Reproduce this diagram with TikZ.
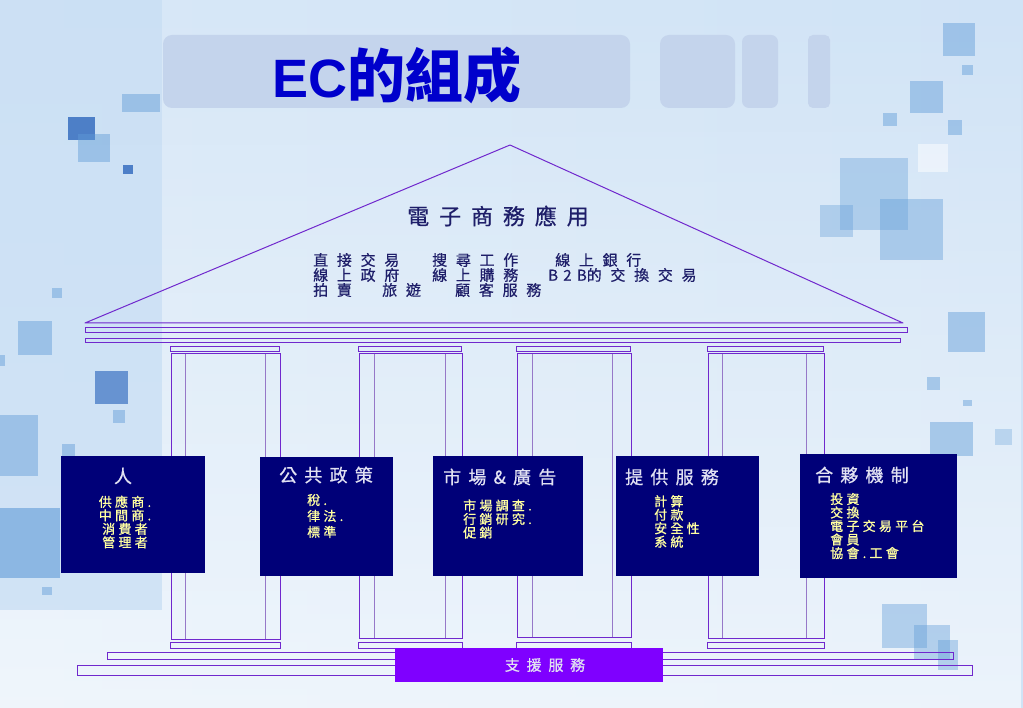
\documentclass[tikz,border=0pt]{standalone}
\usepackage{fontspec}
\usetikzlibrary{fadings}
\setmainfont{Liberation Sans}
\newfontfamily\cjk{Noto Sans CJK TC}
\definecolor{bgtop}{RGB}{216,232,247}
\definecolor{bgmid}{RGB}{236,244,251}
\definecolor{bgright}{RGB}{208,227,246}
\definecolor{strip}{RGB}{200,222,244}
\definecolor{sq}{RGB}{95,155,215}
\definecolor{sqd}{RGB}{35,95,185}
\definecolor{tbox}{RGB}{196,212,236}
\definecolor{ttl}{RGB}{0,0,204}
\definecolor{pl}{RGB}{112,40,205}
\definecolor{pli}{RGB}{150,120,200}
\definecolor{navy}{RGB}{0,0,120}
\definecolor{vio}{RGB}{127,0,255}
\definecolor{rooftxt}{RGB}{30,30,105}
\definecolor{boxttl}{RGB}{225,225,242}
\definecolor{boxitm}{RGB}{255,255,160}
\newcommand{\rooffont}{\cjk\fontsize{15}{15}\selectfont\addfontfeature{LetterSpace=58,FakeBold=0.6}}
\newcommand{\roofhead}{\cjk\fontsize{22}{22}\selectfont\addfontfeature{LetterSpace=45,FakeBold=0.6}}
\newcommand{\bttlfont}{\cjk\fontsize{18}{18}\selectfont\addfontfeature{LetterSpace=40,FakeBold=0.6}}
\newcommand{\bitmfont}{\cjk\fontsize{13}{13.5}\selectfont\addfontfeature{LetterSpace=25,FakeBold=0.8}}
\begin{document}
\begin{tikzpicture}[x=1pt,y=-1pt,
  edge/.style={draw=pl, line width=1pt},
  inner/.style={draw=pli, line width=0.8pt},
  sqbox/.style={fill=sq, fill opacity=0.45},
  sqdark/.style={fill=sqd, fill opacity=0.75},
  navybox/.style={fill=navy, draw=none, inner sep=0, minimum width=#1},
  rtxt/.style={text=rooftxt, font=\rooffont, anchor=west, inner sep=0},
  btitle/.style={text=boxttl, font=\bttlfont, inner sep=0},
  bitem/.style={text=boxitm, font=\bitmfont, inner sep=0, align=left},
]
\useasboundingbox (0,0) rectangle (1023,708);
% background
\shade[left color=bgtop, middle color=bgmid, right color=bgright] (0,0) rectangle (1023,708);
\fill[white, opacity=0.6, path fading=north] (0,0) rectangle (1023,708);
\fill[strip, opacity=0.75] (0,0) rectangle (162,610);
% decorative squares left
\fill[sqbox] (122,94) rectangle (160,112);
\fill[sqdark] (68,117) rectangle (95,140);
\fill[sqbox] (78,134) rectangle (110,162);
\fill[sqdark] (123,165) rectangle (133,174);
\fill[sqbox] (52,288) rectangle (62,298);
\fill[sqbox] (18,321) rectangle (52,355);
\fill[sqbox] (0,355) rectangle (5,366);
\fill[sqdark, fill opacity=0.6] (95,371) rectangle (128,404);
\fill[sqbox] (113,410) rectangle (125,423);
\fill[sqbox] (0,415) rectangle (38,476);
\fill[sqbox] (62,444) rectangle (75,456);
\fill[sqbox, fill opacity=0.6] (0,508) rectangle (60,578);
\fill[sqbox] (42,587) rectangle (52,595);
% decorative squares right
\fill[sqbox] (943,23) rectangle (975,56);
\fill[sqbox] (962,65) rectangle (973,75);
\fill[sqbox] (910,81) rectangle (943,113);
\fill[sqbox] (883,113) rectangle (897,126);
\fill[sqbox] (948,120) rectangle (962,135);
\fill[white, opacity=0.5] (918,144) rectangle (948,172);
\fill[sqbox, fill opacity=0.35] (840,158) rectangle (908,230);
\fill[sqbox, fill opacity=0.4] (880,199) rectangle (943,260);
\fill[sqbox, fill opacity=0.35] (820,205) rectangle (853,237);
\fill[sqbox] (948,312) rectangle (985,352);
\fill[sqbox] (927,377) rectangle (940,390);
\fill[sqbox] (963,400) rectangle (972,406);
\fill[sqbox] (930,422) rectangle (973,456);
\fill[sqbox, fill opacity=0.3] (995,429) rectangle (1012,445);
\fill[sqbox, fill opacity=0.4] (882,604) rectangle (927,648);
\fill[sqbox, fill opacity=0.4] (914,625) rectangle (950,660);
\fill[sqbox, fill opacity=0.4] (938,640) rectangle (958,670);
% title bar
\fill[tbox, rounded corners=9pt] (163,35) rectangle (630,108);
\fill[tbox, rounded corners=9pt] (660,35) rectangle (735,108);
\fill[tbox, rounded corners=7pt] (742,35) rectangle (778,108);
\fill[tbox, rounded corners=5pt] (808,35) rectangle (830,108);
\node[anchor=west, inner sep=0, text=ttl] (title) at (272,75)
  {\fontsize{54}{54}\selectfont\bfseries EC{\cjk\fontsize{58}{58}\selectfont\bfseries 的組成}};
% roof
\coordinate (apex) at (510,145);
\coordinate (rl) at (85,323);
\coordinate (rr) at (903,323);
\draw[edge, line join=round] (rl) -- (apex) -- (rr) -- cycle;
\draw[edge] (85,328) rectangle (907,333);
\draw[edge] (85,339) rectangle (900,343);
\node[text=rooftxt, font=\roofhead, inner sep=0] (head) at (498,216) {電子商務應用};
\node[rtxt] (r11) at (313,260) {直接交易};
\node[rtxt] (r12) at (432,260) {搜尋工作};
\node[rtxt] (r13) at (555,260) {線上銀行};
\node[rtxt] (r21) at (313,275) {線上政府};
\node[rtxt] (r22) at (432,275) {線上購務};
\node[rtxt] (r23) at (548,275) {{\addfontfeature{LetterSpace=35}B2B}的交換交易};
\node[rtxt] (r31) at (313,290) {拍賣};
\node[rtxt] (r32) at (382,290) {旅遊};
\node[rtxt] (r33) at (455,290) {顧客服務};
% columns: capital, body, inner lines, base
\foreach \a/\b/\c/\d/\bot in {171/185/265/280/639, 359/374/445/462/638, 517/532/612/631/637, 708/722/806/824/638}{
  \draw[edge] (\a-1,347) rectangle (\d-1,352);
  \draw[edge] (\a,\bot) -- (\a,354) -- (\d,354) -- (\d,\bot) -- cycle;
  \draw[inner] (\b,354) -- (\b,\bot);
  \draw[inner] (\c,354) -- (\c,\bot);
  \draw[edge] (\a-1,642) rectangle (\d,648);
}
% steps
\draw[edge] (107,652) rectangle (953,659);
\draw[edge] (77,665) rectangle (972,675);
% support box
\node[fill=vio, minimum width=268pt, minimum height=34pt, inner sep=0] (sup) at (529,665) {};
\node[text=boxttl, font=\cjk\fontsize{15}{15}\selectfont\addfontfeature{LetterSpace=45,FakeBold=0.6}, inner sep=0] (suptxt) at (545,665) {支援服務};
% pillar boxes
\node[navybox=144pt, minimum height=117pt] (b1) at (133,514.5) {};
\node[navybox=133pt, minimum height=119pt] (b2) at (326.5,516.5) {};
\node[navybox=150pt, minimum height=120pt] (b3) at (508,516) {};
\node[navybox=143pt, minimum height=120pt] (b4) at (687.5,516) {};
\node[navybox=157pt, minimum height=124pt] (b5) at (878.5,516) {};
% box texts
\node[btitle] (t1) at (123,476) {人};
\node[bitem, align=center] (i1) at (125,522) {供應商.\\中間商.\\消費者\\管理者};
\node[btitle] (t2) at (326,475) {公共政策};
\node[bitem, anchor=west, font=\cjk\fontsize{13}{16}\selectfont\addfontfeature{LetterSpace=25,FakeBold=0.8}] (i2) at (307,516) {稅.\\律法.\\標準};
\node[btitle, anchor=west] (t3) at (443,477) {市場\&廣告};
\node[bitem, anchor=west] (i3) at (463,519) {市場調查.\\行銷研究.\\促銷};
\node[btitle, anchor=west] (t4) at (625,477) {提供服務};
\node[bitem, anchor=west] (i4) at (654,521.5) {計算\\付款\\安全性\\系統};
\node[btitle, anchor=west] (t5) at (815,475) {合夥機制};
\node[bitem, anchor=west] (i5) at (830,526) {投資\\交換\\電子交易平台\\會員\\協會.工會};
\end{tikzpicture}
\end{document}
